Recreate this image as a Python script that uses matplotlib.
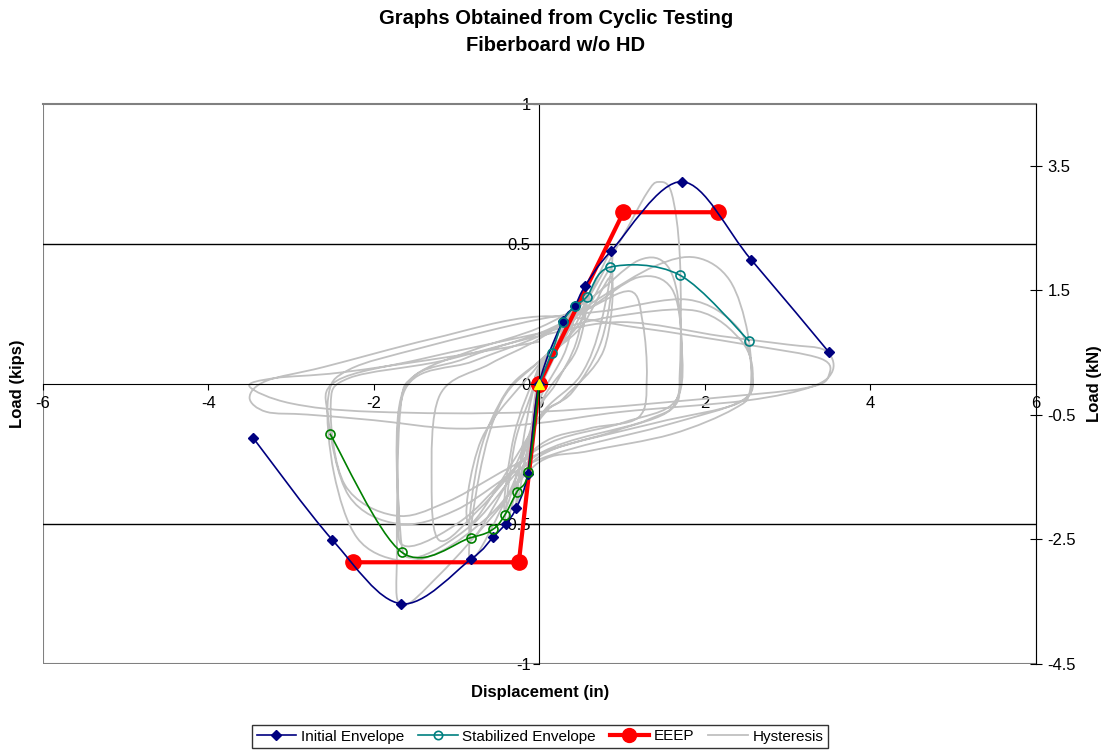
import numpy as np
import matplotlib
matplotlib.use('Agg')
import matplotlib.pyplot as plt
from matplotlib.path import Path
from matplotlib.patches import PathPatch
from matplotlib.lines import Line2D

plt.rcParams['font.family'] = ['Liberation Sans', 'DejaVu Sans']
plt.rcParams['axes.unicode_minus'] = False

# initial envelope (in, kips)
init_x = [-3.46, -2.50, -1.67, -0.825, -0.553, -0.406, -0.276, -0.138, 0.0,
          0.285, 0.43, 0.557, 0.873, 1.728, 2.561, 3.50]
init_y = [-0.192, -0.557, -0.785, -0.626, -0.546, -0.50, -0.443, -0.321, 0.0,
          0.223, 0.277, 0.350, 0.475, 0.721, 0.443, 0.113]

# stabilized envelope, positive and negative branches
stab_pos_x = [0.0, 0.149, 0.285, 0.43, 0.575, 0.855, 1.697, 2.54]
stab_pos_y = [0.0, 0.109, 0.220, 0.277, 0.310, 0.416, 0.388, 0.152]
stab_neg_x = [0.0, -0.13, -0.272, -0.415, -0.557, -0.825, -1.662, -2.53]
stab_neg_y = [0.0, -0.315, -0.387, -0.468, -0.519, -0.549, -0.601, -0.178]

# EEEP bilinear curves
eeep_pos_x = [0.0, 1.018, 2.158]
eeep_pos_y = [0.0, 0.612, 0.612]
eeep_neg_x = [0.0, -0.246, -2.245]
eeep_neg_y = [0.0, -0.637, -0.637]

# hysteresis trace, read cycle by cycle
hyst_x = [0.0,
          0.15, 0.08, 0.0, -0.10, -0.05, 0.0,
          0.15, 0.29, 0.20, 0.0, -0.14, -0.08, 0.0,
          0.20, 0.43, 0.32, 0.0, -0.15, -0.28, -0.18, 0.0,
          0.30, 0.57, 0.45, 0.20, 0.0, -0.20, -0.41, -0.30, -0.10, 0.0,
          0.30, 0.57, 0.45, 0.0, -0.41, -0.30, 0.0,
          0.40, 0.87, 0.75, 0.50, 0.0, -0.35, -0.83, -0.72, -0.45, 0.0,
          0.45, 0.87, 0.76, 0.40, 0.0, -0.40, -0.83, -0.72, -0.40, 0.0,
          0.50, 0.87, 0.78, 0.30, 0.0, -0.83, -0.70, 0.0,
          0.50, 1.00, 1.30, 1.44, 1.60, 1.70, 1.70, 1.60, 0.90, 0.0, -0.50, -1.20, -1.67, -1.72, -1.68, -1.50, -0.80, 0.0,
          0.60, 1.20, 1.55, 1.70, 1.68, 1.30, 0.0, -0.80, -1.50, -1.68, -1.65, -0.90, 0.0,
          0.60, 1.20, 1.60, 1.72, 1.65, 1.00, 0.0, -0.90, -1.60, -1.70, -1.62, -0.80, 0.0,
          0.55, 1.10, 1.25, 1.30, 1.20, 0.60, 0.0, -0.70, -1.20, -1.30, -1.20, -0.60, 0.0,
          0.70, 1.40, 1.90, 2.30, 2.52, 2.55, 2.35, 1.60, 0.60, 0.0, -0.60, -1.20, -1.70, -2.20, -2.48, -2.55, -2.30, -1.40, 0.0,
          0.80, 1.80, 2.40, 2.57, 2.45, 1.50, 0.0, -1.00, -1.70, -2.30, -2.55, -2.45, -1.40, 0.0,
          0.90, 1.90, 2.45, 2.58, 2.40, 1.40, 0.0, -1.10, -1.75, -2.35, -2.52, -2.30, -1.20, 0.0,
          1.00, 2.20, 3.00, 3.45, 3.55, 3.30, 2.50, 1.00, 0.0, -1.00, -2.00, -2.80, -3.30, -3.50, -3.30, -2.60, -1.30, 0.0,
          1.20, 2.50, 3.40, 3.50, 3.30, 2.50, 0.0, -2.00, -3.00, -3.50, -3.20, -2.40, -1.00, 0.0]
hyst_y = [0.0,
          0.11, 0.04, -0.03, -0.22, -0.08, 0.02,
          0.12, 0.22, 0.11, -0.04, -0.32, -0.12, 0.03,
          0.13, 0.28, 0.12, -0.06, -0.25, -0.44, -0.18, 0.04,
          0.17, 0.35, 0.15, 0.0, -0.09, -0.30, -0.50, -0.22, -0.04, 0.06,
          0.16, 0.31, 0.12, -0.08, -0.45, -0.18, 0.05,
          0.19, 0.47, 0.22, 0.03, -0.12, -0.38, -0.63, -0.32, -0.06, 0.08,
          0.20, 0.41, 0.16, -0.03, -0.12, -0.36, -0.55, -0.25, -0.03, 0.08,
          0.20, 0.38, 0.12, -0.05, -0.13, -0.50, -0.20, 0.07,
          0.26, 0.52, 0.68, 0.72, 0.68, 0.45, 0.05, -0.09, -0.17, -0.26, -0.45, -0.68, -0.79, -0.60, -0.10, 0.03, 0.12, 0.20,
          0.30, 0.44, 0.42, 0.25, -0.04, -0.13, -0.25, -0.50, -0.62, -0.52, -0.03, 0.09, 0.18,
          0.27, 0.38, 0.34, 0.15, -0.06, -0.14, -0.23, -0.48, -0.58, -0.45, -0.02, 0.08, 0.17,
          0.26, 0.33, 0.22, 0.02, -0.12, -0.16, -0.22, -0.44, -0.56, -0.35, -0.04, 0.07, 0.16,
          0.30, 0.42, 0.45, 0.37, 0.18, -0.02, -0.09, -0.18, -0.24, -0.28, -0.47, -0.60, -0.63, -0.55, -0.32, -0.05, 0.05, 0.13, 0.23,
          0.26, 0.30, 0.20, 0.04, -0.06, -0.15, -0.27, -0.45, -0.50, -0.40, -0.12, 0.01, 0.09, 0.18,
          0.24, 0.26, 0.15, 0.02, -0.07, -0.14, -0.25, -0.42, -0.47, -0.36, -0.08, 0.02, 0.08, 0.17,
          0.22, 0.17, 0.14, 0.12, 0.05, -0.01, -0.06, -0.10, -0.14, -0.16, -0.13, -0.11, -0.10, -0.05, 0.01, 0.06, 0.16, 0.24,
          0.20, 0.14, 0.09, 0.03, -0.01, -0.04, -0.10, -0.10, -0.07, -0.01, 0.02, 0.04, 0.10, 0.15]

kn_ticks = [-4.5, -2.5, -0.5, 1.5, 3.5]


def smooth_path(xs, ys):
    # catmull-rom style bezier through the points, like excel smoothed lines
    pts = np.column_stack([xs, ys]).astype(float)
    n = len(pts)
    verts = [pts[0]]
    codes = [Path.MOVETO]
    for i in range(n - 1):
        p0 = pts[i - 1] if i > 0 else pts[i]
        p1 = pts[i]
        p2 = pts[i + 1]
        p3 = pts[i + 2] if i + 2 < n else pts[i + 1]
        verts += [p1 + (p2 - p0) / 6, p2 - (p3 - p1) / 6, p2]
        codes += [Path.CURVE4] * 3
    return Path(verts, codes)


W, H = 1109, 753
fig = plt.figure(figsize=(W / 100, H / 100), dpi=100)
L, R, T, B = 42.7, 1035.7, 103.5, 664
ax = fig.add_axes([L / W, 1 - B / H, (R - L) / W, (B - T) / H])
ax.set_xlim(-6, 6)
ax.set_ylim(-1, 1)

# frame and centre axes
for s in ['top', 'right']:
    ax.spines[s].set_color('#808080')
ax.spines['left'].set_position('zero')
ax.spines['bottom'].set_position('zero')
ax.spines['left'].set_color('black')
ax.spines['bottom'].set_color('black')
ax.axvline(-6, color='#808080', lw=1.5, zorder=0.5)
ax.axhline(-1, color='#808080', lw=1.5, zorder=0.5)
ax.spines['top'].set_linewidth(1.5)
for yv in [0.5, -0.5]:
    ax.axhline(yv, color='black', lw=1, zorder=0.6)

ax.set_xticks([-6, -4, -2, 0, 2, 4, 6])
ax.set_yticks([-1, -0.5, 0, 0.5, 1])
ax.set_yticklabels(['-1', '-0.5', '0', '0.5', '1'])
ax.tick_params(axis='both', direction='out', length=4, labelsize=12, color='black')
ax.tick_params(axis='x', pad=5)
ax.tick_params(axis='y', pad=2)

# hysteresis
ax.add_patch(PathPatch(smooth_path(hyst_x, hyst_y), fill=False, edgecolor='#C0C0C0', lw=1.3, zorder=2))

# envelopes
ax.add_patch(PathPatch(smooth_path(init_x, init_y), fill=False, edgecolor='#000080', lw=1.2, zorder=3))
ax.plot(init_x, init_y, ls='none', marker='D', ms=5, color='#000080', zorder=4)

ax.add_patch(PathPatch(smooth_path(stab_pos_x, stab_pos_y), fill=False, edgecolor='#008080', lw=1.2, zorder=3))
ax.plot(stab_pos_x[1:], stab_pos_y[1:], ls='none', marker='o', ms=6.5, mfc='none', mec='#008080', mew=1.2, zorder=4)
ax.add_patch(PathPatch(smooth_path(stab_neg_x, stab_neg_y), fill=False, edgecolor='#008000', lw=1.2, zorder=3))
ax.plot(stab_neg_x[1:], stab_neg_y[1:], ls='none', marker='o', ms=6.5, mfc='none', mec='#008000', mew=1.2, zorder=4)

# EEEP
ax.plot(eeep_pos_x, eeep_pos_y, color='#FF0000', lw=3, marker='o', ms=11, zorder=2.5)
ax.plot(eeep_neg_x, eeep_neg_y, color='#FF0000', lw=3, marker='o', ms=11, zorder=2.5)
ax.plot([0], [0], ls='none', marker='^', ms=7, color='#FFFF00', zorder=6)

# secondary axis in kN
ax2 = ax.twinx()
ax2.set_ylim(-4.5, 4.5)
ax2.set_yticks(kn_ticks)
ax2.set_yticklabels(['-4.5', '-2.5', '-0.5', '1.5', '3.5'])
for s in ['top', 'left', 'bottom']:
    ax2.spines[s].set_visible(False)
ax2.spines['right'].set_color('black')
ax2.tick_params(axis='y', direction='inout', length=9, labelsize=12, pad=4)

# titles and labels
fig.text(556 / W, 1 - 18.5 / H, 'Graphs Obtained from Cyclic Testing', ha='center', va='center',
         fontsize=14.5, fontweight='bold')
fig.text(556 / W, 1 - 45.5 / H, 'Fiberboard w/o HD', ha='center', va='center',
         fontsize=14.5, fontweight='bold')
fig.text(540 / W, 1 - 692 / H, 'Displacement (in)', ha='center', va='center', fontsize=12, fontweight='bold')
fig.text(18 / W, 1 - 384 / H, 'Load (kips)', ha='center', va='center', rotation=90, fontsize=12, fontweight='bold')
fig.text(1094 / W, 1 - 384 / H, 'Load (kN)', ha='center', va='center', rotation=90, fontsize=12, fontweight='bold')

handles = [
    Line2D([], [], color='#000080', lw=1.2, marker='D', ms=5),
    Line2D([], [], color='#008080', lw=1.2, marker='o', ms=6, mfc='none', mew=1.2),
    Line2D([], [], color='#FF0000', lw=3, marker='o', ms=10),
    Line2D([], [], color='#C0C0C0', lw=1.3),
]
labels = ['Initial Envelope', 'Stabilized Envelope', 'EEEP', 'Hysteresis']
leg = fig.legend(handles, labels, loc='center', bbox_to_anchor=(540 / W, 1 - 736.5 / H), ncol=4,
                 fancybox=False, edgecolor='black', fontsize=11, handlelength=2.6,
                 columnspacing=0.9, handletextpad=0.3, borderpad=0.3, borderaxespad=0)
leg.get_frame().set_linewidth(1)

fig.savefig('out.png', dpi=100)
